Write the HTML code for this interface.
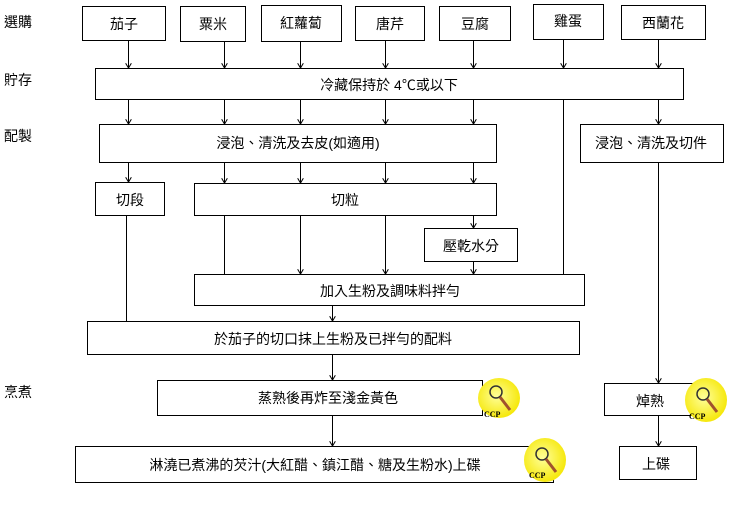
<!DOCTYPE html>
<html><head><meta charset="utf-8"><style>
html,body{margin:0;padding:0;background:#fff;}
svg text{font-family:"Liberation Sans","Noto Sans CJK TC",sans-serif;font-size:14px;fill:#000;}
</style></head><body>
<svg width="731" height="502" viewBox="0 0 731 502" xmlns="http://www.w3.org/2000/svg">
<defs><marker id="a" markerWidth="6" markerHeight="6" refX="5" refY="3" orient="auto" markerUnits="userSpaceOnUse"><path d="M0,0 L5,3 L0,6" fill="none" stroke="#000" stroke-width="1"/></marker>
<radialGradient id="g" cx="0.45" cy="0.45" r="0.6"><stop offset="0" stop-color="#ffff99"/><stop offset="1" stop-color="#f5e600"/></radialGradient></defs>
<g fill="none" stroke="#000" stroke-width="1">
<rect x="82.5" y="6.5" width="83" height="34"/>
<rect x="180.5" y="6.5" width="65" height="35"/>
<rect x="261.5" y="5.5" width="80" height="36"/>
<rect x="355.5" y="6.5" width="69" height="34"/>
<rect x="439.5" y="6.5" width="71" height="34"/>
<rect x="533.5" y="4.5" width="70" height="35"/>
<rect x="621.5" y="5.5" width="84" height="34"/>
<rect x="95.5" y="68.5" width="588" height="31"/>
<rect x="99.5" y="124.5" width="397" height="38"/>
<rect x="580.5" y="124.5" width="143" height="38"/>
<rect x="95.5" y="182.5" width="69" height="33"/>
<rect x="194.5" y="183.5" width="302" height="32"/>
<rect x="424.5" y="228.5" width="93" height="33"/>
<rect x="194.5" y="274.5" width="390" height="31"/>
<rect x="87.5" y="321.5" width="492" height="33"/>
<rect x="157.5" y="380.5" width="325" height="35"/>
<rect x="75.5" y="446.5" width="478" height="36"/>
<rect x="604.5" y="383.5" width="92" height="32"/>
<rect x="619.5" y="446.5" width="77" height="33"/>
</g>
<g stroke="#000" stroke-width="1" fill="none">
<line x1="128.5" y1="40" x2="128.5" y2="68" marker-end="url(#a)"/>
<line x1="224.5" y1="41" x2="224.5" y2="68" marker-end="url(#a)"/>
<line x1="300.5" y1="41" x2="300.5" y2="68" marker-end="url(#a)"/>
<line x1="385.5" y1="40" x2="385.5" y2="68" marker-end="url(#a)"/>
<line x1="473.5" y1="40" x2="473.5" y2="68" marker-end="url(#a)"/>
<line x1="563.5" y1="39" x2="563.5" y2="68" marker-end="url(#a)"/>
<line x1="658.5" y1="39" x2="658.5" y2="68" marker-end="url(#a)"/>
<line x1="128.5" y1="99" x2="128.5" y2="124" marker-end="url(#a)"/>
<line x1="224.5" y1="99" x2="224.5" y2="124" marker-end="url(#a)"/>
<line x1="300.5" y1="99" x2="300.5" y2="124" marker-end="url(#a)"/>
<line x1="385.5" y1="99" x2="385.5" y2="124" marker-end="url(#a)"/>
<line x1="473.5" y1="99" x2="473.5" y2="124" marker-end="url(#a)"/>
<line x1="658.5" y1="99" x2="658.5" y2="124" marker-end="url(#a)"/>
<line x1="563.5" y1="99" x2="563.5" y2="274"/>
<line x1="128.5" y1="162" x2="128.5" y2="182" marker-end="url(#a)"/>
<line x1="224.5" y1="162" x2="224.5" y2="183" marker-end="url(#a)"/>
<line x1="300.5" y1="162" x2="300.5" y2="183" marker-end="url(#a)"/>
<line x1="385.5" y1="162" x2="385.5" y2="183" marker-end="url(#a)"/>
<line x1="473.5" y1="162" x2="473.5" y2="183" marker-end="url(#a)"/>
<line x1="126.5" y1="215" x2="126.5" y2="321"/>
<line x1="224.5" y1="215" x2="224.5" y2="274"/>
<line x1="300.5" y1="215" x2="300.5" y2="274" marker-end="url(#a)"/>
<line x1="385.5" y1="215" x2="385.5" y2="274" marker-end="url(#a)"/>
<line x1="473.5" y1="215" x2="473.5" y2="228" marker-end="url(#a)"/>
<line x1="473.5" y1="261" x2="473.5" y2="274" marker-end="url(#a)"/>
<line x1="332.5" y1="305" x2="332.5" y2="321" marker-end="url(#a)"/>
<line x1="332.5" y1="354" x2="332.5" y2="380" marker-end="url(#a)"/>
<line x1="332.5" y1="415" x2="332.5" y2="446" marker-end="url(#a)"/>
<line x1="658.5" y1="162" x2="658.5" y2="383" marker-end="url(#a)"/>
<line x1="658.5" y1="415" x2="658.5" y2="446" marker-end="url(#a)"/>
</g>
<text x="4" y="27">選購</text>
<text x="4" y="85">貯存</text>
<text x="4" y="141">配製</text>
<text x="4" y="397">烹煮</text>
<g text-anchor="middle">
<text x="124" y="29">茄子</text>
<text x="213" y="29">粟米</text>
<text x="301" y="28">紅蘿蔔</text>
<text x="390" y="29">唐芹</text>
<text x="475" y="29">豆腐</text>
<text x="568" y="26">雞蛋</text>
<text x="663" y="28">西蘭花</text>
<text x="389" y="90">冷藏保持於 4℃或以下</text>
<text x="298" y="148">浸泡、清洗及去皮(如適用)</text>
<text x="651" y="148">浸泡、清洗及切件</text>
<text x="130" y="205">切段</text>
<text x="345" y="205">切粒</text>
<text x="471" y="251">壓乾水分</text>
<text x="390" y="296">加入生粉及調味料拌勻</text>
<text x="333" y="344">於茄子的切口抹上生粉及已拌勻的配料</text>
<text x="328" y="403">蒸熟後再炸至淺金黃色</text>
<text x="315" y="470">淋澆已煮沸的芡汁(大紅醋、鎮江醋、糖及生粉水)上碟</text>
<text x="650" y="406">焯熟</text>
<text x="656" y="469">上碟</text>
</g>
<g>
<ellipse cx="499" cy="398" rx="21" ry="20" fill="url(#g)"/>
<ellipse cx="706" cy="400" rx="21" ry="22" fill="url(#g)"/>
<ellipse cx="545" cy="460" rx="21" ry="22" fill="url(#g)"/>
</g>
<g>
<text x="484" y="417" style="font-size:8px;font-family:'Liberation Serif',serif;font-weight:bold">CCP</text>
<text x="689" y="419" style="font-size:8px;font-family:'Liberation Serif',serif;font-weight:bold">CCP</text>
<text x="529" y="478" style="font-size:8px;font-family:'Liberation Serif',serif;font-weight:bold">CCP</text>
</g>
<g stroke="#333" stroke-width="1.5" fill="none">
<circle cx="496" cy="392" r="6"/><line x1="500" y1="397" x2="510" y2="410" stroke="#a0522d" stroke-width="3"/>
<circle cx="703" cy="394" r="6"/><line x1="707" y1="399" x2="717" y2="412" stroke="#a0522d" stroke-width="3"/>
<circle cx="542" cy="454" r="6"/><line x1="546" y1="459" x2="556" y2="472" stroke="#a0522d" stroke-width="3"/>
</g>
</svg>
</body></html>
